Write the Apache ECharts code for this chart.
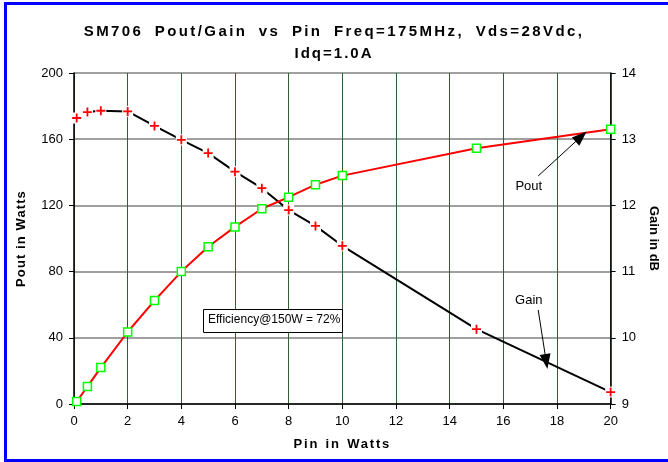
<!DOCTYPE html>
<html>
<head>
<meta charset="utf-8">
<script src="https://cdn.jsdelivr.net/npm/echarts@6/dist/echarts.min.js"></script>
<style>html,body{margin:0;padding:0;background:#fff}#c{width:668px;height:462px}</style>
</head>
<body>
<div id="c"></div>
<script>
const pinW = [0.1, 0.5, 1, 2, 3, 4, 5, 6, 7, 8, 9, 10, 15, 20];
const poutW = [1.5, 10.5, 22, 43.5, 62.5, 80, 95, 107, 118, 125, 132.5, 138, 154.5, 166];
const gainDb = [13.32, 13.41, 13.43, 13.42, 13.2, 12.99, 12.79, 12.51, 12.26, 11.93, 11.69, 11.39, 10.13, 9.18];
const xTicks = [0, 2, 4, 6, 8, 10, 12, 14, 16, 18, 20];
const titleLines = ['SM706 Pout/Gain vs Pin Freq=175MHz, Vds=28Vdc,', 'Idq=1.0A'];
const xName = 'Pin in Watts';
const yLeftName = 'Pout in Watts';
const yRightName = 'Gain in dB';

// Excel-like wide character spacing for a few bold texts only
const SPACING = new Map([
  [titleLines[0], [2.4, 5]],
  [titleLines[1], [2, 0]],
  [xName, [1.8, 1]],
  [yLeftName, [1.1, 0]]
]);
(function () {
  const P = CanvasRenderingContext2D.prototype;
  if (!('letterSpacing' in P)) return;
  ['fillText', 'strokeText', 'measureText'].forEach(fn => {
    const orig = P[fn];
    P[fn] = function (t) {
      const s = SPACING.get(t);
      if (!s) {
        if (this.letterSpacing !== '0px') this.letterSpacing = '0px';
        if ('wordSpacing' in this && this.wordSpacing !== '0px') this.wordSpacing = '0px';
        return orig.apply(this, arguments);
      }
      this.save();
      this.letterSpacing = s[0] + 'px';
      if ('wordSpacing' in this) this.wordSpacing = s[1] + 'px';
      let r;
      try { r = orig.apply(this, arguments); }
      finally { this.restore(); this.letterSpacing = '0px'; if ('wordSpacing' in this) this.wordSpacing = '0px'; }
      return r;
    };
  });
})();

const font = 'Liberation Sans, Arial, sans-serif';
const poutData = pinW.map((x, i) => [x, poutW[i]]);
const gainData = pinW.map((x, i) => [x, gainDb[i]]);
const plusPath = 'path://M4,0H6V4H10V6H6V10H4V6H0V4H4Z';

const chart = echarts.init(document.getElementById('c'), null, {renderer: 'canvas'});
chart.setOption({
  animation: false,
  backgroundColor: '#fff',
  textStyle: {fontFamily: font},
  title: {
    text: titleLines.join('\n'),
    left: 'center', top: 16,
    textStyle: {fontFamily: font, fontSize: 15, fontWeight: 'bold', color: '#000', lineHeight: 22}
  },
  grid: {left: 74, right: 54, top: 73, bottom: 58},
  xAxis: {
    type: 'value', min: 0, max: 20, interval: 2,
    name: xName, nameLocation: 'middle', nameGap: 34,
    nameTextStyle: {fontFamily: font, fontSize: 13, fontWeight: 'bold', color: '#000'},
    axisLine: {onZero: false, lineStyle: {color: '#000', width: 1.5}},
    axisTick: {length: 5, lineStyle: {color: '#000'}},
    axisLabel: {margin: 11, fontSize: 13, color: '#000', fontFamily: font,
      formatter: v => xTicks.includes(v) ? String(v) : ''},
    splitLine: {show: true, lineStyle: {color: '#2f5f2f', width: 1}}
  },
  yAxis: [{
    type: 'value', min: 0, max: 200, interval: 40,
    name: yLeftName, nameLocation: 'middle', nameGap: 46,
    nameTextStyle: {fontFamily: font, fontSize: 13, fontWeight: 'bold', color: '#000'},
    axisLine: {show: true, lineStyle: {color: '#000', width: 1.5}},
    axisTick: {show: true, length: 5, lineStyle: {color: '#000'}},
    axisLabel: {margin: 11, fontSize: 13, color: '#000', fontFamily: font},
    splitLine: {show: true, lineStyle: {color: '#808080', width: 1.5}}
  }, {
    type: 'value', min: 9, max: 14, interval: 1, position: 'right',
    name: yRightName, nameLocation: 'middle', nameGap: 36, nameRotate: -90,
    nameTextStyle: {fontFamily: font, fontSize: 13, fontWeight: 'bold', color: '#000'},
    axisLine: {show: true, lineStyle: {color: '#000', width: 1.5}},
    axisTick: {show: true, length: 5, lineStyle: {color: '#000'}},
    axisLabel: {margin: 11, fontSize: 13, color: '#000', fontFamily: font},
    splitLine: {show: false}
  }],
  series: [{
    name: 'Gain line', type: 'line', yAxisIndex: 1, data: gainData,
    symbol: 'rect', symbolSize: 11, showSymbol: true,
    itemStyle: {color: '#fff'},
    lineStyle: {color: '#000', width: 2},
    z: 2,
    markLine: {
      silent: true, symbol: ['none', 'triangle'], symbolSize: [11, 15],
      label: {show: false},
      lineStyle: {color: '#000', width: 1, type: 'solid'},
      data: [[{coord: [17.3, 10.42]}, {coord: [17.6, 9.64]}]]
    },
    markPoint: {
      symbol: 'rect', symbolSize: 1, itemStyle: {color: 'rgba(0,0,0,0)'},
      label: {show: true, position: 'inside', formatter: 'Gain', fontSize: 13, color: '#000', fontFamily: font},
      data: [{coord: [16.95, 10.57]}]
    }
  }, {
    name: 'Gain', type: 'line', yAxisIndex: 1, data: gainData,
    symbol: plusPath, symbolSize: 9,
    itemStyle: {color: '#ff0000'},
    lineStyle: {width: 0, opacity: 0},
    z: 4
  }, {
    name: 'Pout', type: 'line', yAxisIndex: 0, data: poutData,
    symbol: 'rect', symbolSize: 8,
    itemStyle: {color: '#fff', borderColor: '#00ff00', borderWidth: 1.5},
    lineStyle: {color: '#ff0000', width: 2},
    z: 3,
    markLine: {
      silent: true, symbol: ['none', 'triangle'], symbolSize: [11, 15],
      label: {show: false},
      lineStyle: {color: '#000', width: 1, type: 'solid'},
      data: [[{coord: [17.3, 137.8]}, {coord: [18.9, 161.6]}]]
    },
    markPoint: {
      symbol: 'rect', symbolSize: 1, itemStyle: {color: 'rgba(0,0,0,0)'},
      label: {show: true, position: 'inside', formatter: 'Pout', fontSize: 13, color: '#000', fontFamily: font},
      data: [{coord: [16.95, 131.7]}]
    }
  }],
  graphic: [
    {type: 'rect', left: 203, top: 309, z: 10,
      shape: {width: 139, height: 23},
      style: {fill: '#fff', stroke: '#000', lineWidth: 1}},
    {type: 'text', left: 208, top: 314, z: 11,
      style: {text: 'Efficiency@150W = 72%', font: '12px ' + font, fill: '#000'}},
    {type: 'rect', left: 4, top: 2, z: 20, shape: {width: 664, height: 3}, style: {fill: '#0000ff'}},
    {type: 'rect', left: 4, top: 2, z: 20, shape: {width: 3, height: 460}, style: {fill: '#0000ff'}},
    {type: 'rect', left: 4, top: 459, z: 20, shape: {width: 664, height: 3}, style: {fill: '#0000ff'}}
  ]
});
</script>
</body>
</html>
